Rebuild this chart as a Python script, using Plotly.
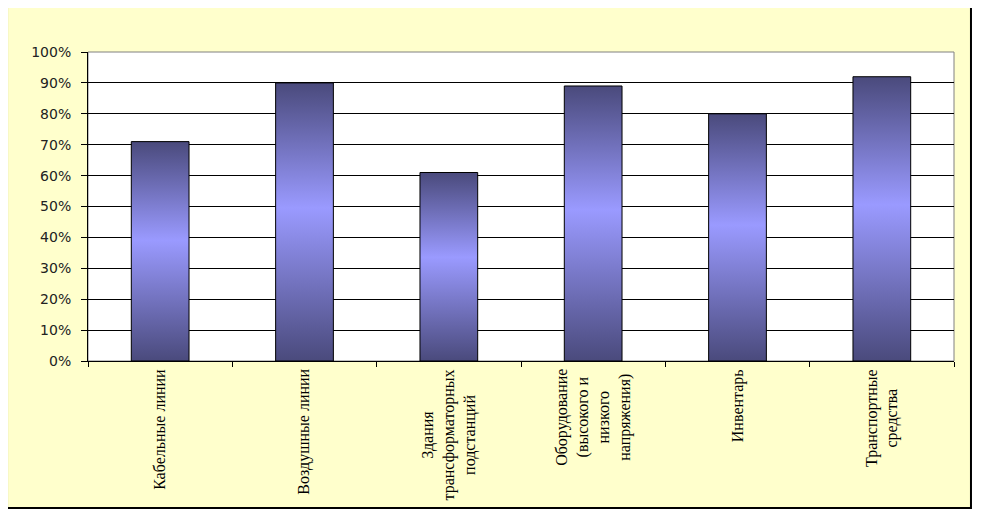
import plotly.graph_objects as go

# Data
categories = [
    "Кабельные линии",
    "Воздушные линии",
    "Здания<br>трансформаторных<br>подстанций",
    "Оборудование<br>(высокого и<br>низкого<br>напряжения)",
    "Инвентарь",
    "Транспортные<br>средства",
]
values = [71, 90, 61, 89, 80, 92]  # percent
y_ticks = [0, 10, 20, 30, 40, 50, 60, 70, 80, 90, 100]

DARK = "#4a4a7c"
LIGHT = "#9a9aff"
half_w = 0.2

fig = go.Figure()

# bars with vertical gradient (scatter fill so the gradient can be used)
for i, (cat, v) in enumerate(zip(categories, values)):
    fig.add_trace(go.Scatter(
        x=[i - half_w, i - half_w, i + half_w, i + half_w, i - half_w],
        y=[0, v, v, 0, 0],
        mode="lines",
        fill="toself",
        fillgradient=dict(type="vertical",
                          colorscale=[[0, DARK], [0.55, LIGHT], [1, DARK]]),
        line=dict(color="black", width=1),
        name=cat.replace("<br>", " "),
        hoverinfo="name+y",
        showlegend=False,
    ))

# category labels, rotated, centred lines
for i, cat in enumerate(categories):
    fig.add_annotation(
        x=i, xref="x", y=-0.02, yref="paper",
        text=cat, textangle=-90, showarrow=False,
        xanchor="center", yanchor="top", align="center",
        font=dict(family="Liberation Serif", size=16, color="black"),
    )

n = len(categories)
boundaries = [k - 0.5 for k in range(n + 1)]

# outer yellow frame and white plot area
fig.add_shape(type="rect", xref="paper", yref="paper",
              x0=-0.0935, x1=1.0196, y0=-0.4757, y1=1.1489,
              fillcolor="#ffffcc", line=dict(color="black", width=2),
              layer="below")
fig.add_shape(type="rect", xref="paper", yref="paper",
              x0=0, x1=1, y0=0, y1=1,
              fillcolor="white", line=dict(color="#808080", width=1),
              layer="below")

# page body has an 8px margin, so the figure is a bit smaller and shifted
fig.update_layout(
    width=974, height=510,
    margin=dict(l=80, r=28, t=44, b=157),
    paper_bgcolor="white",
    plot_bgcolor="white",
    showlegend=False,
    xaxis=dict(
        range=[-0.5, n - 0.5],
        tickmode="array", tickvals=boundaries,
        showticklabels=False,
        ticks="outside", ticklen=5, tickcolor="black",
        showgrid=False, zeroline=False,
        showline=True, linecolor="black", linewidth=1,
        fixedrange=True,
    ),
    yaxis=dict(
        range=[0, 100],
        tickmode="array", tickvals=y_ticks,
        ticktext=[f"{t}%" for t in y_ticks],
        ticks="outside", ticklen=6, tickcolor="black",
        ticklabelstandoff=7,
        tickfont=dict(family="DejaVu Sans", size=14, color="#222222"),
        showgrid=True, gridcolor="black", gridwidth=1,
        zeroline=False,
        showline=True, linecolor="black", linewidth=1,
        fixedrange=True,
    ),
)

fig.write_html("out.html")
